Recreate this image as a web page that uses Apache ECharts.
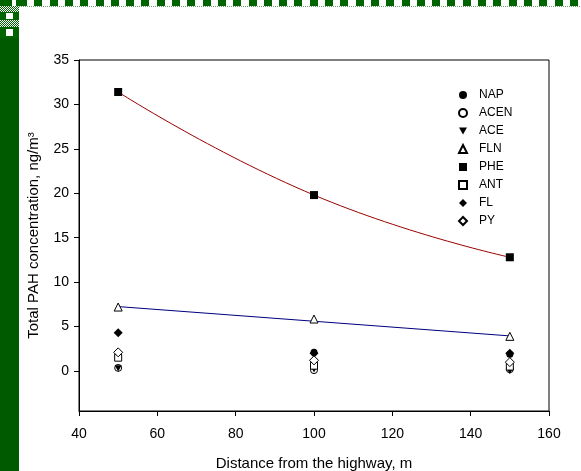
<!DOCTYPE html>
<html>
<head>
<meta charset="utf-8">
<script src="https://cdn.jsdelivr.net/npm/echarts@6/dist/echarts.min.js"></script>
<style>
html,body{margin:0;padding:0;background:#fff;}
#wrap{position:relative;width:581px;height:471px;overflow:hidden;}
#chart{position:absolute;left:0;top:0;width:581px;height:471px;}
.deco{position:absolute;pointer-events:none;}
#leftbar{left:0;top:38px;width:19px;height:433px;background:#005a00;}
#topstrip{left:19px;top:0;width:562px;height:6px;
  background:repeating-linear-gradient(90deg,#006400 0px,#006400 8px,#fff 8px,#fff 15.3px);}
#topdither{left:19px;top:6px;width:562px;height:1px;
  background:repeating-linear-gradient(90deg,#6a9f6a 0px,#6a9f6a 1px,#fff 1px,#fff 2px);}
#leftcheck{left:0;top:0;width:19px;height:38px;background:#fff;}
</style>
</head>
<body>
<div id="wrap">
<div id="chart"></div>
<div class="deco" id="topstrip"></div>
<div class="deco" id="topdither"></div>
<div class="deco" id="leftcheck">
  <div class="deco" style="left:0;top:0;width:19px;height:6px;background:#006400;"></div>
  <div class="deco" style="left:12px;top:0;width:4px;height:6px;background:#fff;"></div>
  <div class="deco" style="left:0;top:6px;width:19px;height:6px;background:repeating-conic-gradient(#006400 0 25%,#fff 0 50%) 0 0/2px 2px;"></div>
  <div class="deco" style="left:0;top:12px;width:19px;height:8px;background:#006400;"></div>
  <div class="deco" style="left:6px;top:13px;width:7px;height:6px;background:#fff;"></div>
  <div class="deco" style="left:0;top:20px;width:19px;height:7px;background:repeating-conic-gradient(#006400 0 25%,#fff 0 50%) 0 0/2px 2px;"></div>
  <div class="deco" style="left:0;top:27px;width:19px;height:11px;background:#006400;"></div>
  <div class="deco" style="left:6px;top:29px;width:7px;height:7px;background:#fff;"></div>
</div>
<div class="deco" id="leftbar"></div>
</div>
<script>
// ---- data ----
var distances = [50, 100, 150];
var NAP  = [2.0, 2.1, 1.9];
var ACEN = [0.35, 0.1, 0.2];
var ACE  = [0.3, 0.2, 0.0];
var FLN  = [7.2, 5.85, 3.9];
var PHE  = [31.4, 19.8, 12.8];
var ANT  = [1.5, 0.6, 0.5];
var FL   = [4.3, 2.0, 2.0];
var PY   = [2.1, 1.2, 1.0];
var flnFitX = [50, 150];
var flnFitY = [7.25, 3.95];
var xTicks = [40, 60, 80, 100, 120, 140, 160];
var yTicks = [0, 5, 10, 15, 20, 25, 30, 35];
var seriesNames = ['NAP', 'ACEN', 'ACE', 'FLN', 'PHE', 'ANT', 'FL', 'PY'];

function pairs(xs, ys) { return xs.map(function (x, i) { return [x, ys[i]]; }); }

var downTri = 'path://M0,0 L10,0 L5,9 Z';
var defs = {
  NAP:  {data: NAP,  symbol: 'circle',   size: 7, filled: true},
  ACEN: {data: ACEN, symbol: 'circle',   size: 7, filled: false},
  ACE:  {data: ACE,  symbol: downTri,    size: 7, filled: true},
  FLN:  {data: FLN,  symbol: 'triangle', size: 8, filled: false},
  PHE:  {data: PHE,  symbol: 'rect',     size: 8, filled: true},
  ANT:  {data: ANT,  symbol: 'rect',     size: 7, filled: false},
  FL:   {data: FL,   symbol: 'diamond',  size: 9, filled: true},
  PY:   {data: PY,   symbol: 'diamond',  size: 9, filled: false}
};

var series = [
  {
    name: 'PHE fit', type: 'line', data: pairs(distances, PHE), smooth: 0.5,
    showSymbol: false, symbol: 'none', z: 1, silent: true,
    lineStyle: {color: '#990000', width: 1}
  },
  {
    name: 'FLN fit', type: 'line', data: pairs(flnFitX, flnFitY),
    showSymbol: false, symbol: 'none', z: 1, silent: true,
    lineStyle: {color: '#000080', width: 1}
  }
];
seriesNames.forEach(function (n) {
  var d = defs[n];
  series.push({
    name: n, type: 'scatter', data: pairs(distances, d.data),
    symbol: d.symbol, symbolSize: d.size, z: 3, symbolKeepAspect: true,
    itemStyle: d.filled ? {color: '#000', borderColor: '#000', borderWidth: 0, opacity: 1}
                        : {color: '#fff', borderColor: '#000', borderWidth: 1, opacity: 1}
  });
});

var chart = echarts.init(document.getElementById('chart'), null, {renderer: 'canvas'});
var font = 'Liberation Sans, Arial, sans-serif';
chart.setOption({
  animation: false,
  backgroundColor: '#fff',
  grid: {left: 79, right: 32, top: 60, bottom: 60, show: true, borderColor: '#000', borderWidth: 1,
         backgroundColor: 'transparent', containLabel: false, outerBoundsMode: 'none'},
  legend: {
    data: seriesNames, orient: 'vertical', left: 453, top: 84,
    itemWidth: 8, itemHeight: 8, itemGap: 6, selectedMode: false,
    textStyle: {fontFamily: font, fontSize: 12, color: '#000', lineHeight: 12, padding: [0, 0, 0, 7]}
  },
  xAxis: {
    type: 'value', min: 40, max: 160, interval: 20,
    name: 'Distance from the highway, m', nameLocation: 'middle', nameGap: 45,
    nameTextStyle: {fontFamily: font, fontSize: 15, color: '#000'},
    axisLine: {show: true, onZero: false, lineStyle: {color: '#000', width: 1}},
    axisTick: {show: true, length: 5, lineStyle: {color: '#000'}, customValues: xTicks},
    axisLabel: {fontFamily: font, fontSize: 14, color: '#000', margin: 16, customValues: xTicks},
    splitLine: {show: false}
  },
  yAxis: {
    type: 'value', min: -4.5, max: 35,
    name: 'Total PAH concentration, ng/m³', nameLocation: 'middle', nameGap: 38, nameRotate: 90,
    nameTextStyle: {fontFamily: font, fontSize: 15, color: '#000'},
    axisLine: {show: true, onZero: false, lineStyle: {color: '#000', width: 1}},
    axisTick: {show: true, length: 5, lineStyle: {color: '#000'}, customValues: yTicks},
    axisLabel: {fontFamily: font, fontSize: 14, color: '#000', margin: 10, customValues: yTicks},
    splitLine: {show: false}
  },
  series: series
});
</script>
</body>
</html>
